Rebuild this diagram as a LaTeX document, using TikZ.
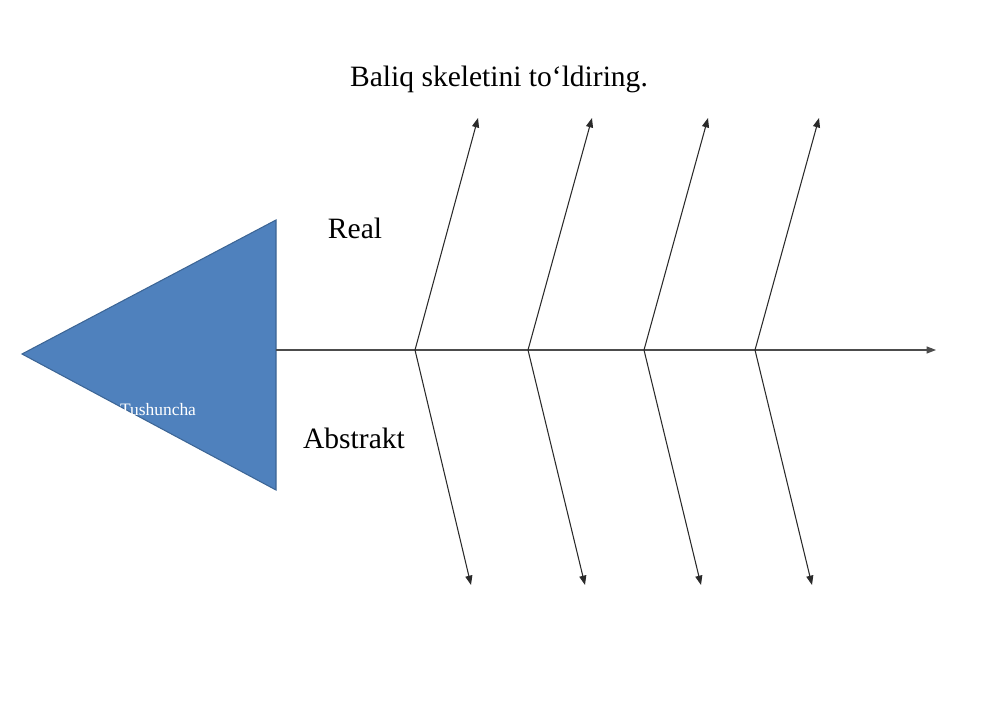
\documentclass[tikz,border=0pt]{standalone}
\usepackage{fontspec}
\setmainfont{Liberation Serif}[Ligatures=ResetAll]
\usetikzlibrary{arrows.meta}
\definecolor{fishblue}{HTML}{4F81BD}
\definecolor{fishedge}{HTML}{3C6595}
\definecolor{bonegray}{HTML}{2A2A2A}
\tikzset{
  bone/.style={draw=bonegray, line width=0.9pt, -{Triangle[length=8pt,width=6pt]}},
  bigtext/.style={font=\fontsize{25.2}{30}\selectfont, inner sep=0pt, anchor=base},
  smalltext/.style={font=\fontsize{14.9}{18}\selectfont, text=white, inner sep=0pt, anchor=base}
}
\begin{document}
\begin{tikzpicture}[x=0.03cm, y=-0.03cm]
\useasboundingbox (0,0) rectangle (1000,707);
% head
\filldraw[fill=fishblue, draw=fishedge, line width=0.9pt] (22,354) -- (276,220) -- (276,490) -- cycle;
\coordinate (head) at (276,350);
\coordinate (tail) at (936,350);
\draw[bone, draw=black!70] (head) -- (tail);
% junctions
\foreach \i/\jx/\ux/\lx in {1/415/478/471, 2/528/592/585, 3/644/708/701, 4/755/819/812} {
  \coordinate (j\i) at (\jx,350);
  \coordinate (u\i) at (\ux,118);
  \coordinate (l\i) at (\lx,585);
  \draw[bone] (j\i) -- (u\i);
  \draw[bone] (j\i) -- (l\i);
}
\node[bigtext] (title) at (499,87) {Baliq skeletini to`ldiring.};
\node[bigtext] (real) at (355,239) {Real};
\node[bigtext] (abstrakt) at (354,448) {Abstrakt};
\node[smalltext] (tushuncha) at (158,415) {Tushuncha};
\end{tikzpicture}
\end{document}
